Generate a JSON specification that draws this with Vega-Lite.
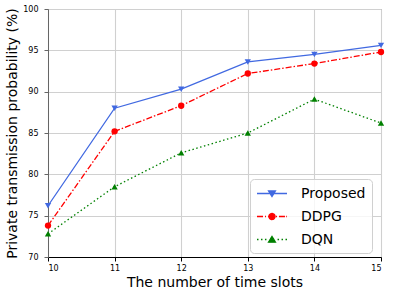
{
  "$schema": "https://vega.github.io/schema/vega-lite/v6.json",
  "width": 333,
  "height": 248,
  "autosize": {"type": "none"},
  "padding": {"left": 48, "top": 9, "right": 12, "bottom": 40},
  "background": "white",
  "config": {
    "font": "DejaVu Sans",
    "view": {"stroke": "#888", "strokeWidth": 1},
    "axis": {"gridColor": "#d0d0d0", "gridWidth": 1.1, "labelFontSize": 8, "labelFont": "DejaVu Sans", "titleFont": "DejaVu Sans", "titleFontSize": 14, "titleFontWeight": "normal", "titleColor": "#000", "labelColor": "#000", "tickSize": 4}
  },
  "data": {"values": [
    {"x": 10, "method": "Proposed", "value": 76.2},
    {"x": 11, "method": "Proposed", "value": 88.0},
    {"x": 12, "method": "Proposed", "value": 90.3},
    {"x": 13, "method": "Proposed", "value": 93.6},
    {"x": 14, "method": "Proposed", "value": 94.5},
    {"x": 15, "method": "Proposed", "value": 95.6},
    {"x": 10, "method": "DDPG", "value": 73.8},
    {"x": 11, "method": "DDPG", "value": 85.2},
    {"x": 12, "method": "DDPG", "value": 88.3},
    {"x": 13, "method": "DDPG", "value": 92.2},
    {"x": 14, "method": "DDPG", "value": 93.4},
    {"x": 15, "method": "DDPG", "value": 94.8},
    {"x": 10, "method": "DQN", "value": 72.8},
    {"x": 11, "method": "DQN", "value": 78.5},
    {"x": 12, "method": "DQN", "value": 82.6},
    {"x": 13, "method": "DQN", "value": 85.0},
    {"x": 14, "method": "DQN", "value": 89.1},
    {"x": 15, "method": "DQN", "value": 86.2}
  ]},
  "encoding": {
    "x": {"field": "x", "type": "quantitative", "scale": {"domain": [10, 15], "nice": false},
      "axis": {"values": [10, 11, 12, 13, 14, 15], "title": "The number of time slots", "domainColor": "#000", "tickColor": "#000", "labelPadding": 3, "titleX": 166.5, "titleY": 25, "titleBaseline": "middle", "titleAlign": "center"}},
    "y": {"field": "value", "type": "quantitative", "scale": {"domain": [70, 100], "nice": false, "zero": false},
      "axis": {"values": [70, 75, 80, 85, 90, 95, 100], "title": "Private transmission probability (%)", "domainColor": "#666", "tickColor": "#666", "labelPadding": 6, "titleX": -36, "titleY": 124, "titleAngle": -90, "titleBaseline": "middle", "titleAlign": "center"}},
    "color": {"field": "method", "type": "nominal",
      "scale": {"domain": ["Proposed", "DDPG", "DQN"], "range": ["#4169e1", "#ff0000", "#008000"]},
      "legend": {
        "title": null, "orient": "none", "legendX": 202, "legendY": 170,
        "padding": 6, "symbolOffset": 7.5, "labelOffset": 20.5, "rowPadding": 7,
        "labelFontSize": 14, "labelFont": "DejaVu Sans", "labelColor": "#000", "labelLimit": 0,
        "symbolSize": 225, "symbolStrokeWidth": 1.4,
        "fillColor": "rgba(255,255,255,0.8)", "strokeColor": "#d0d0d0", "cornerRadius": 4,
        "encode": {"symbols": {"update": {
          "shape": {"signal": "datum.value === 'Proposed' ? 'M-2,0H2M0,0.4L-0.45,-0.35L0.45,-0.35Z' : datum.value === 'DDPG' ? 'M-2,0H-1.2M-0.93,0H-0.8M-0.53,0H0.27M0.53,0H0.67M0.93,0H1.73M1.9,0H2M0.4,0A0.4,0.4 0 1,1 -0.4,0A0.4,0.4 0 1,1 0.4,0Z' : 'M-2,0H-1.8M-1.47,0H-1.27M-0.94,0H-0.74M0.74,0H0.94M1.27,0H1.47M1.8,0H2M0,-0.4L-0.45,0.35L0.45,0.35Z'"},
          "fill": {"signal": "datum.value === 'Proposed' ? '#4169e1' : datum.value === 'DDPG' ? '#ff0000' : '#008000'"},
          "stroke": {"signal": "datum.value === 'Proposed' ? '#4169e1' : datum.value === 'DDPG' ? '#ff0000' : '#008000'"},
          "strokeDash": {"value": [1, 0]},
          "opacity": {"value": 1},
          "fillOpacity": {"value": 1}
        }}}
      }}
  },
  "layer": [
    {
      "transform": [{"filter": "datum.method === 'Proposed'"}],
      "mark": {"type": "line", "strokeWidth": 1.3},
      "encoding": {}
    },
    {
      "transform": [{"filter": "datum.method === 'DDPG'"}],
      "mark": {"type": "line", "strokeWidth": 1.3, "strokeDash": [6, 2, 1.5, 2]},
      "encoding": {}
    },
    {
      "transform": [{"filter": "datum.method === 'DQN'"}],
      "mark": {"type": "line", "strokeWidth": 1.3, "strokeDash": [1.5, 2.5]},
      "encoding": {}
    },
    {
      "transform": [{"filter": "datum.method === 'Proposed'"}],
      "mark": {"type": "point", "filled": true, "opacity": 1, "size": 40, "shape": "triangle-down"},
      "encoding": {}
    },
    {
      "transform": [{"filter": "datum.method === 'DDPG'"}],
      "mark": {"type": "point", "filled": true, "opacity": 1, "size": 40, "shape": "circle"},
      "encoding": {}
    },
    {
      "transform": [{"filter": "datum.method === 'DQN'"}],
      "mark": {"type": "point", "filled": true, "opacity": 1, "size": 40, "shape": "triangle-up"},
      "encoding": {}
    }
  ]
}
